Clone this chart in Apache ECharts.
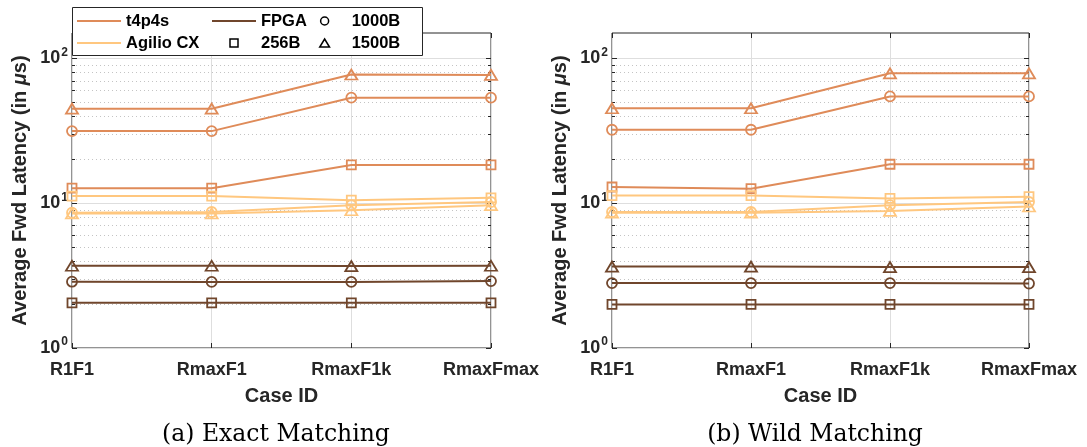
<!DOCTYPE html>
<html><head><meta charset="utf-8">
<script src="https://cdn.jsdelivr.net/npm/echarts@6/dist/echarts.min.js"></script>
<style>html,body{margin:0;padding:0;background:#fff}#chart{width:1087px;height:447px}</style>
</head><body><div id="chart"></div>
<script>
// ---------- data ----------
const categories = ['R1F1', 'RmaxF1', 'RmaxF1k', 'RmaxFmax'];
const systems = ['t4p4s', 'Agilio CX', 'FPGA'];
const packetSizes = ['256B', '1000B', '1500B'];
const majorTicks = [1, 10, 100];
const minorTicks = [2, 3, 4, 5, 6, 7, 8, 9, 20, 30, 40, 50, 60, 70, 80, 90];
const captions = ['(a) Exact Matching', '(b) Wild Matching'];

// (a) Exact matching, average forwarding latency in microseconds
const exactT4p4s256 = [12.7, 12.7, 18.4, 18.4];
const exactT4p4s1000 = [31.5, 31.5, 53.6, 53.6];
const exactT4p4s1500 = [45, 45, 77.5, 77];
const exactAgilio256 = [11.2, 11.2, 10.5, 10.9];
const exactAgilio1000 = [8.6, 8.7, 9.7, 10.2];
const exactAgilio1500 = [8.5, 8.5, 8.95, 9.7];
const exactFpga256 = [2.05, 2.05, 2.05, 2.05];
const exactFpga1000 = [2.87, 2.86, 2.86, 2.9];
const exactFpga1500 = [3.7, 3.7, 3.68, 3.7];

// (b) Wild matching
const wildT4p4s256 = [12.95, 12.6, 18.6, 18.6];
const wildT4p4s1000 = [32.2, 32.2, 54.7, 54.7];
const wildT4p4s1500 = [45.3, 45.3, 79, 79];
const wildAgilio256 = [11.3, 11.3, 10.8, 11.1];
const wildAgilio1000 = [8.7, 8.7, 9.7, 10.2];
const wildAgilio1500 = [8.6, 8.6, 8.85, 9.5];
const wildFpga256 = [2.0, 2.0, 2.0, 2.0];
const wildFpga1000 = [2.81, 2.81, 2.81, 2.79];
const wildFpga1500 = [3.65, 3.65, 3.62, 3.62];

const panelData = [
  [[exactT4p4s256, exactT4p4s1000, exactT4p4s1500],
   [exactAgilio256, exactAgilio1000, exactAgilio1500],
   [exactFpga256, exactFpga1000, exactFpga1500]],
  [[wildT4p4s256, wildT4p4s1000, wildT4p4s1500],
   [wildAgilio256, wildAgilio1000, wildAgilio1500],
   [wildFpga256, wildFpga1000, wildFpga1500]]
];

// ---------- style ----------
const FONT = 'Liberation Sans';
const INK = '#262626';
const sysColors = ['#DF8B59', '#FFC77F', '#70462C'];
const sizeSymbols = ['rect', 'circle', 'triangle'];
const sizeSymbolSizes = [9, 10, [12, 10]];
const LINE_ICON = 'path://M0,0H44V2.2H0Z';
const sizeIcons = ['path://M0,0H10V10H0Z', 'path://M5,0A5,5,0,1,1,5,10A5,5,0,1,1,5,0Z', 'path://M5,0L10,8.2L0,8.2Z'];

const grids = [
  { left: 72, right: 596, top: 33, bottom: 99 },
  { left: 612, right: 58, top: 33, bottom: 99 }
];
const captionCenters = [271, 810];

const xAxes = [], yAxes = [], series = [];
grids.forEach((g, p) => {
  g.show = true; g.borderColor = INK; g.borderWidth = 1; g.backgroundColor = 'transparent'; g.containLabel = false;
  xAxes.push({
    type: 'category', gridIndex: p, data: categories, boundaryGap: false, position: 'bottom',
    axisLine: { show: false },
    axisTick: { show: true, inside: true, length: 5, lineStyle: { color: INK } },
    axisLabel: { interval: 0, margin: 13, fontSize: 18, fontWeight: 'bold', fontFamily: FONT, color: INK },
    splitLine: { show: true, lineStyle: { color: '#dedede', width: 1 } },
    name: 'Case ID', nameLocation: 'middle', nameGap: 38,
    nameTextStyle: { fontSize: 20, fontWeight: 'bold', fontFamily: FONT, color: INK }
  });
  xAxes.push({
    type: 'category', gridIndex: p, data: categories, boundaryGap: false, position: 'top',
    axisLine: { show: false },
    axisTick: { show: true, inside: true, length: 5, lineStyle: { color: INK } },
    axisLabel: { show: false }, splitLine: { show: false }
  });
  const baseY = { type: 'log', logBase: 10, min: 1, max: 150, gridIndex: p, axisLine: { show: false } };
  yAxes.push(Object.assign({}, baseY, {
    position: 'left',
    axisTick: { show: true, inside: true, length: 5, customValues: majorTicks, lineStyle: { color: INK } },
    axisLabel: {
      customValues: majorTicks, margin: 4,
      formatter: v => '{b|10}{s|' + Math.round(Math.log10(v)) + '}',
      rich: {
        b: { fontSize: 18, lineHeight: 18, fontWeight: 'bold', fontFamily: FONT, color: INK, verticalAlign: 'bottom' },
        s: { fontSize: 12, lineHeight: 12, fontWeight: 'bold', fontFamily: FONT, color: INK, verticalAlign: 'bottom', padding: [0, 0, 9, 1] }
      }
    },
    splitLine: { show: true, lineStyle: { color: '#dedede', width: 1 } },
    name: '{t|Average Fwd Latency (in }{m|μ}{t|s)}', nameLocation: 'middle', nameGap: 42, nameRotate: 90,
    nameTextStyle: {
      rich: {
        t: { fontSize: 20, fontWeight: 'bold', fontFamily: FONT, color: INK },
        m: { fontSize: 20, fontWeight: 'bold', fontStyle: 'italic', fontFamily: FONT, color: INK }
      }
    }
  }));
  yAxes.push(Object.assign({}, baseY, {
    position: 'left',
    axisTick: { show: true, inside: true, length: 3, customValues: minorTicks, lineStyle: { color: INK } },
    axisLabel: { show: false, customValues: minorTicks },
    splitLine: { show: true, lineStyle: { color: '#c4c4c4', width: 1, type: [1, 3] } }
  }));
  yAxes.push(Object.assign({}, baseY, {
    position: 'right',
    axisTick: { show: true, inside: true, length: 5, customValues: majorTicks, lineStyle: { color: INK } },
    axisLabel: { show: false, customValues: majorTicks }, splitLine: { show: false }
  }));
  yAxes.push(Object.assign({}, baseY, {
    position: 'right',
    axisTick: { show: true, inside: true, length: 3, customValues: minorTicks, lineStyle: { color: INK } },
    axisLabel: { show: false, customValues: minorTicks }, splitLine: { show: false }
  }));

  panelData[p].forEach((sysArr, s) => {
    sysArr.forEach((vals, k) => {
      series.push({
        name: systems[s], type: 'line', xAxisIndex: p * 2, yAxisIndex: p * 4,
        data: vals, symbol: sizeSymbols[k], symbolSize: sizeSymbolSizes[k], showAllSymbol: true,
        lineStyle: { color: sysColors[s], width: 2 },
        itemStyle: { color: 'rgba(0,0,0,0)', borderColor: sysColors[s], borderWidth: 1.8 },
        emphasis: { disabled: true }, silent: true, z: 3 + (s === 1 ? 1 : 0)
      });
    });
  });
});
// marker-only legend entries
packetSizes.forEach((ps, k) => {
  series.push({ name: ps, type: 'line', xAxisIndex: 0, yAxisIndex: 0, data: [], symbol: sizeSymbols[k],
    itemStyle: { color: 'rgba(0,0,0,0)', borderColor: '#000' } });
});

const legendText = { fontSize: 16.5, fontWeight: 'bold', fontFamily: FONT, color: '#000', lineHeight: 22 };
const lineItem = (s) => ({ name: systems[s], icon: LINE_ICON, itemStyle: { color: sysColors[s], borderWidth: 0 } });
const sizeItem = (k) => ({ name: packetSizes[k], icon: sizeIcons[k], itemStyle: { color: 'rgba(0,0,0,0)', borderColor: '#000', borderWidth: 1.5 } });
const legendBase = { orient: 'vertical', top: 10, itemWidth: 44, itemHeight: 8, itemGap: 0, padding: 0, textStyle: legendText, z: 20, selectedMode: false };

const option = {
  animation: false,
  backgroundColor: '#fff',
  grid: grids,
  xAxis: xAxes,
  yAxis: yAxes,
  series: series,
  legend: [
    Object.assign({}, legendBase, { left: 77, data: [lineItem(0), lineItem(1)] }),
    Object.assign({}, legendBase, { left: 212, data: [lineItem(2), sizeItem(0)] }),
    Object.assign({}, legendBase, { left: 319, data: [sizeItem(1), sizeItem(2)] })
  ],
  graphic: [{ type: 'rect', z: 15, shape: { x: 72.5, y: 7.5, width: 350, height: 48 },
    style: { fill: '#fff', stroke: INK, lineWidth: 1 } }],
  title: captions.map((c, i) => ({
    text: c, left: captionCenters[i], top: 418, textAlign: 'center',
    textStyle: { fontFamily: 'DejaVu Serif', fontSize: 23.5, fontWeight: 'normal', color: '#000' }
  }))
};

const chart = echarts.init(document.getElementById('chart'), null, { renderer: 'canvas' });
chart.setOption(option);
</script>
</body></html>
